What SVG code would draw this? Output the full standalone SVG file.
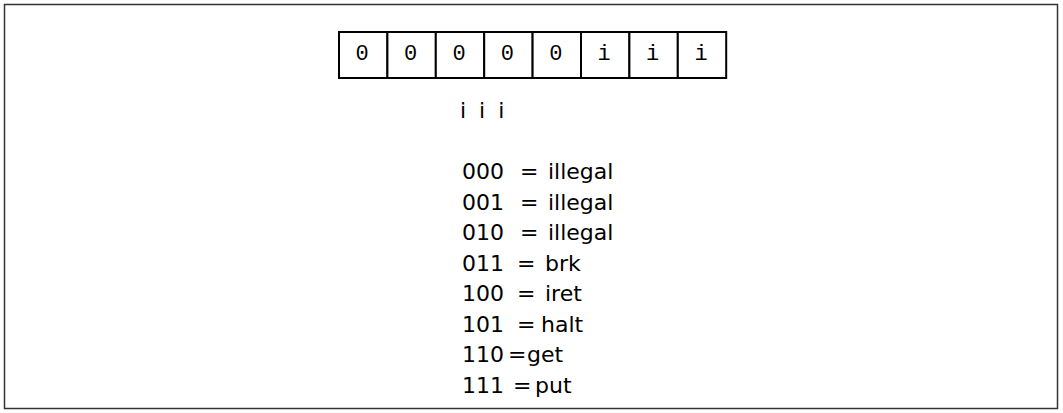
<svg xmlns="http://www.w3.org/2000/svg" width="1063" height="413" viewBox="0 0 1063 413">
<style>
.frame{fill:#fff;stroke:#333;stroke-width:1.5}
.cell{fill:#fff;stroke:#000;stroke-width:2}
.ct{font-family:"Liberation Mono","DejaVu Sans Mono",monospace;font-size:22px;fill:#000;text-anchor:middle}
.t{font-family:"DejaVu Sans","Liberation Sans",sans-serif;font-size:22px;fill:#000}
</style>
<rect class="frame" x="4.5" y="4.5" width="1053" height="404"/>
<g id="register">
<rect class="cell" x="339" y="32" width="48.4" height="46"/>
<rect class="cell" x="387.4" y="32" width="48.4" height="46"/>
<rect class="cell" x="435.8" y="32" width="48.4" height="46"/>
<rect class="cell" x="484.2" y="32" width="48.4" height="46"/>
<rect class="cell" x="532.6" y="32" width="48.4" height="46"/>
<rect class="cell" x="581" y="32" width="48.4" height="46"/>
<rect class="cell" x="629.4" y="32" width="48.4" height="46"/>
<rect class="cell" x="677.8" y="32" width="48.4" height="46"/>
<text class="ct" x="362" y="60">0</text>
<text class="ct" x="410.6" y="60">0</text>
<text class="ct" x="459" y="60">0</text>
<text class="ct" x="507.4" y="60">0</text>
<text class="ct" x="555.8" y="60">0</text>
<text class="ct" x="604.2" y="60">i</text>
<text class="ct" x="652.6" y="60">i</text>
<text class="ct" x="701" y="60">i</text>
</g>
<g id="legend">
<text class="t" x="460" y="118" word-spacing="6">i i i</text>
<text class="t" x="462" y="179">000<tspan x="520">=</tspan><tspan x="548">illegal</tspan></text>
<text class="t" x="462" y="209.5">001<tspan x="520">=</tspan><tspan x="548">illegal</tspan></text>
<text class="t" x="462" y="240">010<tspan x="520">=</tspan><tspan x="548">illegal</tspan></text>
<text class="t" x="462" y="270.5">011<tspan x="517">=</tspan><tspan x="545">brk</tspan></text>
<text class="t" x="462" y="301">100<tspan x="517">=</tspan><tspan x="545">iret</tspan></text>
<text class="t" x="462" y="331.5">101<tspan x="517">=</tspan><tspan x="541">halt</tspan></text>
<text class="t" x="462" y="362">110<tspan x="508">=</tspan><tspan x="527">get</tspan></text>
<text class="t" x="462" y="392.5">111<tspan x="513">=</tspan><tspan x="535">put</tspan></text>
</g>
</svg>
